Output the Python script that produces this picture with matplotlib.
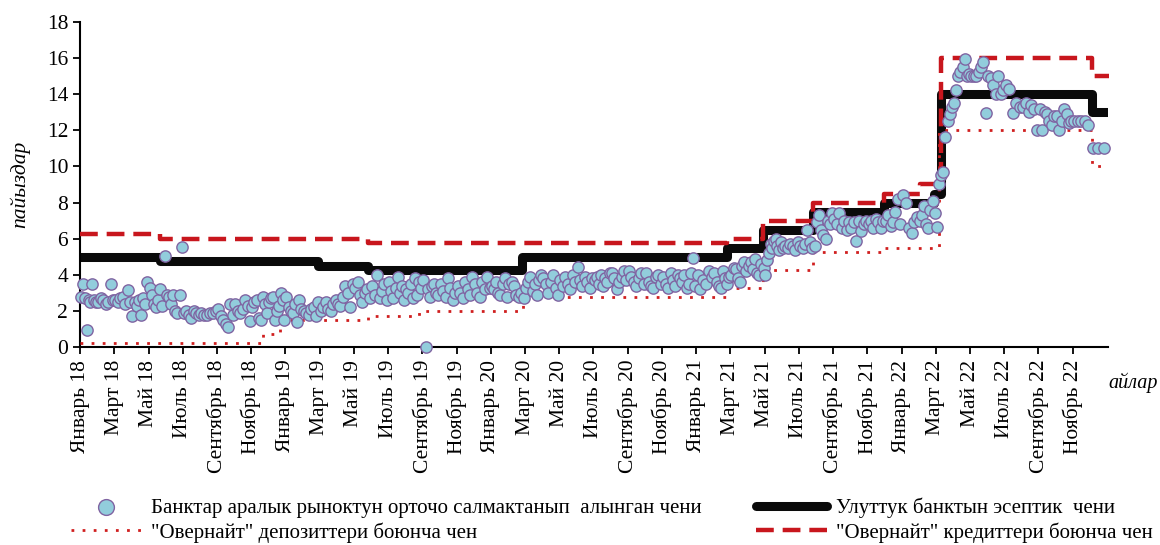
import matplotlib.pyplot as plt

plt.rcParams["font.family"] = ["Liberation Serif", "DejaVu Serif"]

# interbank weighted average rate, several readings per month (Jan 2018 .. Dec 2022)
interbank = [
    [2.8, 3.5, 2.7, 0.95, 2.6, 2.5, 3.5, 2.6, 2.5],
    [2.5, 2.7, 2.6, 2.4, 2.5, 3.5, 2.6],
    [2.6, 2.5, 2.7, 2.8, 2.4, 3.15, 2.5],
    [1.7, 2.5, 2.3, 2.6, 1.8, 2.7, 2.4, 3.6],
    [3.3, 2.9, 2.4, 2.2, 2.6, 3.2, 2.3, 5.05],
    [2.9, 2.8, 2.4, 2.9, 2.0, 1.9, 2.9, 5.55],
    [1.9, 2.0, 1.8, 1.6, 2.0, 1.9, 1.8],
    [1.9, 1.8, 1.8, 1.9, 1.9, 2.0],
    [2.1, 1.7, 1.5, 1.3, 1.1, 2.4, 1.8],
    [2.4, 2.0, 1.9, 2.1, 2.6, 2.3, 1.45],
    [2.2, 2.5, 2.6, 1.6, 1.5, 2.8, 2.4, 1.9],
    [2.5, 2.7, 2.8, 1.5, 2.0, 2.3, 3.0, 2.6, 1.5],
    [2.8, 2.2, 2.0, 1.9, 2.4, 1.4, 2.6, 2.1],
    [2.0, 1.9, 1.8, 2.1, 2.2, 1.7, 2.5],
    [2.0, 2.2, 2.5, 2.1, 2.0, 2.4, 2.6],
    [2.4, 2.3, 2.8, 3.4, 3.0, 2.2, 3.5],
    [3.3, 3.6, 2.9, 2.5, 3.0, 3.2, 2.7],
    [3.4, 2.9, 4.0, 2.7, 3.1, 3.5, 2.6],
    [3.6, 3.1, 2.7, 3.3, 3.9, 3.0, 3.4, 2.6],
    [3.2, 3.0, 3.5, 2.7, 3.8, 2.9, 3.6, 3.3],
    [3.7, 0.0, 3.2, 2.8, 3.4, 3.5, 3.0, 2.9],
    [3.5, 3.1, 2.8, 3.8, 3.3, 2.6, 3.0],
    [3.4, 3.0, 2.7, 3.6, 3.2, 2.9, 3.9],
    [3.5, 3.0, 2.8, 3.6, 3.2, 3.9, 3.3],
    [3.4, 3.2, 3.6, 3.0, 2.9, 3.5, 3.8, 2.8],
    [3.5, 3.6, 3.4, 2.9, 2.8, 3.0, 2.7],
    [3.3, 3.6, 3.9, 3.1, 3.5, 2.9, 3.7, 4.0],
    [3.8, 3.5, 3.0, 3.6, 4.0, 3.3, 2.9],
    [3.7, 3.4, 3.9, 3.5, 3.2, 4.0, 3.6],
    [4.45, 3.7, 3.4, 3.9, 3.6, 3.3, 3.8],
    [3.7, 3.9, 3.5, 4.0, 3.4, 3.8, 3.6, 4.1],
    [4.1, 3.8, 3.2, 3.6, 3.9, 4.2, 3.7],
    [4.2, 3.9, 3.6, 3.4, 3.8, 4.1, 3.5],
    [4.1, 3.6, 3.4, 3.3, 3.9, 4.0, 3.5],
    [3.9, 3.5, 3.3, 4.1, 3.7, 3.4, 4.0],
    [3.8, 3.6, 4.0, 3.3, 3.5, 4.1, 4.95, 3.4],
    [4.0, 3.2, 3.7, 3.5, 4.2, 3.9],
    [4.1, 3.6, 3.4, 3.3, 4.2, 3.8, 3.5, 3.9],
    [4.0, 4.4, 4.3, 3.8, 3.6, 4.5, 4.7, 4.2],
    [4.5, 4.7, 4.3, 4.9, 4.1, 4.0, 4.6, 4.4],
    [4.0, 4.8, 5.2, 5.7, 5.5, 5.9, 6.0, 5.6, 5.4, 5.8],
    [5.5, 5.6, 5.5, 5.7, 5.6, 5.4, 5.8],
    [5.6, 5.5, 5.7, 6.5, 5.8, 5.5, 5.6],
    [6.9, 7.3, 6.5, 6.2, 6.0, 7.0, 6.8, 7.4],
    [7.1, 6.8, 7.4, 6.6, 7.0, 6.5, 6.9],
    [6.6, 6.9, 5.9, 7.0, 6.4, 6.8, 7.0],
    [6.8, 7.0, 6.6, 7.1, 6.9, 6.6, 7.0],
    [7.0, 7.3, 6.7, 6.9, 7.5, 8.2, 6.8],
    [8.4, 8.0, 6.6, 6.3, 6.9, 7.2],
    [7.0, 7.3, 7.8, 6.8, 6.6, 7.6, 8.1, 7.4],
    [6.65, 9.0, 9.5, 9.7, 11.6, 12.5, 12.9, 13.3],
    [13.5, 14.2, 15.0, 15.2, 15.5, 15.95, 15.0, 15.1],
    [15.0, 15.0, 15.0, 15.2, 15.5, 15.8, 12.95],
    [15.0, 14.9, 14.5, 14.0, 15.0, 14.0, 14.2],
    [14.5, 14.3, 12.95, 13.5, 13.3],
    [13.3, 13.5, 13.0, 13.4, 13.2, 12.0],
    [13.2, 12.0, 13.0, 12.9, 12.5, 12.3, 12.8],
    [12.8, 12.0, 12.5, 13.2, 12.9, 12.4, 12.5],
    [12.5, 12.5, 12.5, 12.5, 12.3],
    [11.0, 11.0, 11.0],
]

# step series: month of change (months since Jan 2018) and new value
policy_x = [0, 4.7, 13.9, 16.8, 25.8, 37.8, 39.9, 42.8, 47.0, 49.9, 50.3, 59.1, 60.1]
policy_y = [5.0, 4.75, 4.5, 4.25, 5.0, 5.5, 6.5, 7.5, 8.0, 8.5, 14.0, 13.0, 13.0]

credit_x = [0, 4.7, 16.8, 37.8, 39.9, 42.8, 47.0, 49.1, 50.3, 59.1, 60.1]
credit_y = [6.25, 6.0, 5.75, 6.0, 7.0, 8.0, 8.5, 9.0, 16.0, 15.0, 15.0]

deposit_x = [0, 10.7, 11.7, 16.8, 19.8, 25.9, 37.8, 39.9, 42.8, 47.0, 50.2, 59.1, 59.9]
deposit_y = [0.25, 0.75, 1.5, 1.75, 2.0, 2.75, 3.25, 4.25, 5.25, 5.5, 12.0, 10.0, 10.0]

month_names = ["Январь", "Март", "Май", "Июль", "Сентябрь", "Ноябрь"]
years = ["18", "19", "20", "21", "22"]
tick_labels = [f"{m} {y}" for y in years for m in month_names]


def main() -> None:
    xs, ys = [], []
    for m, vals in enumerate(interbank):
        n = len(vals)
        for i, v in enumerate(vals):
            xs.append(m + (i + 0.5) / n)
            ys.append(v)

    fig = plt.figure(figsize=(11.6, 5.45), dpi=100)
    ax = fig.add_axes([0.069, 0.363, 0.886, 0.597])

    sc = ax.scatter(xs, ys, s=66, facecolor="#92CDDC", edgecolor="#8064A2",
                    linewidth=1.0, zorder=4, clip_on=False,
                    label="Банктар аралык рыноктун орточо салмактанып  алынган чени")
    dep, = ax.step(deposit_x, deposit_y, where="post", color="#D01F1F", lw=2.0,
                   linestyle=(0, (1, 3)), zorder=3,
                   label='"Овернайт" депозиттери боюнча чен')
    pol, = ax.step(policy_x, policy_y, where="post", color="#0A0A0A", lw=6.5,
                   solid_capstyle="round", zorder=2,
                   label="Улуттук банктын эсептик  чени")
    cre, = ax.step(credit_x, credit_y, where="post", color="#C8161D", lw=3.2,
                   linestyle=(0, (4, 2)), zorder=3, clip_on=False,
                   label='"Овернайт" кредиттери боюнча чен')

    ax.set_xlim(0, 60.05)
    ax.set_ylim(0, 18)
    ax.set_yticks(range(0, 19, 2))
    ax.set_xticks(range(0, 60, 2))
    ax.set_xticklabels(tick_labels, rotation=90)
    ax.tick_params(axis="both", direction="out", length=5, width=1.3, labelsize=15.5)
    ax.tick_params(axis="x", pad=4)
    for side in ("top", "right"):
        ax.spines[side].set_visible(False)
    for side in ("left", "bottom"):
        ax.spines[side].set_linewidth(1.5)

    ax.set_ylabel("пайыздар", fontsize=15.5, style="italic", labelpad=12)
    ax.text(1.001, -0.11, "айлар", transform=ax.transAxes, fontsize=14.5,
            style="italic", ha="left", va="center")

    fig.legend(handles=[sc, dep, pol, cre], ncol=2, loc="lower left",
               bbox_to_anchor=(0.045, -0.03), frameon=False, fontsize=15,
               handlelength=3.4, columnspacing=2.6, labelspacing=0.2,
               handletextpad=0.45, markerscale=1.4)

    fig.savefig("out.png", dpi=100)


if __name__ == "__main__":
    main()
